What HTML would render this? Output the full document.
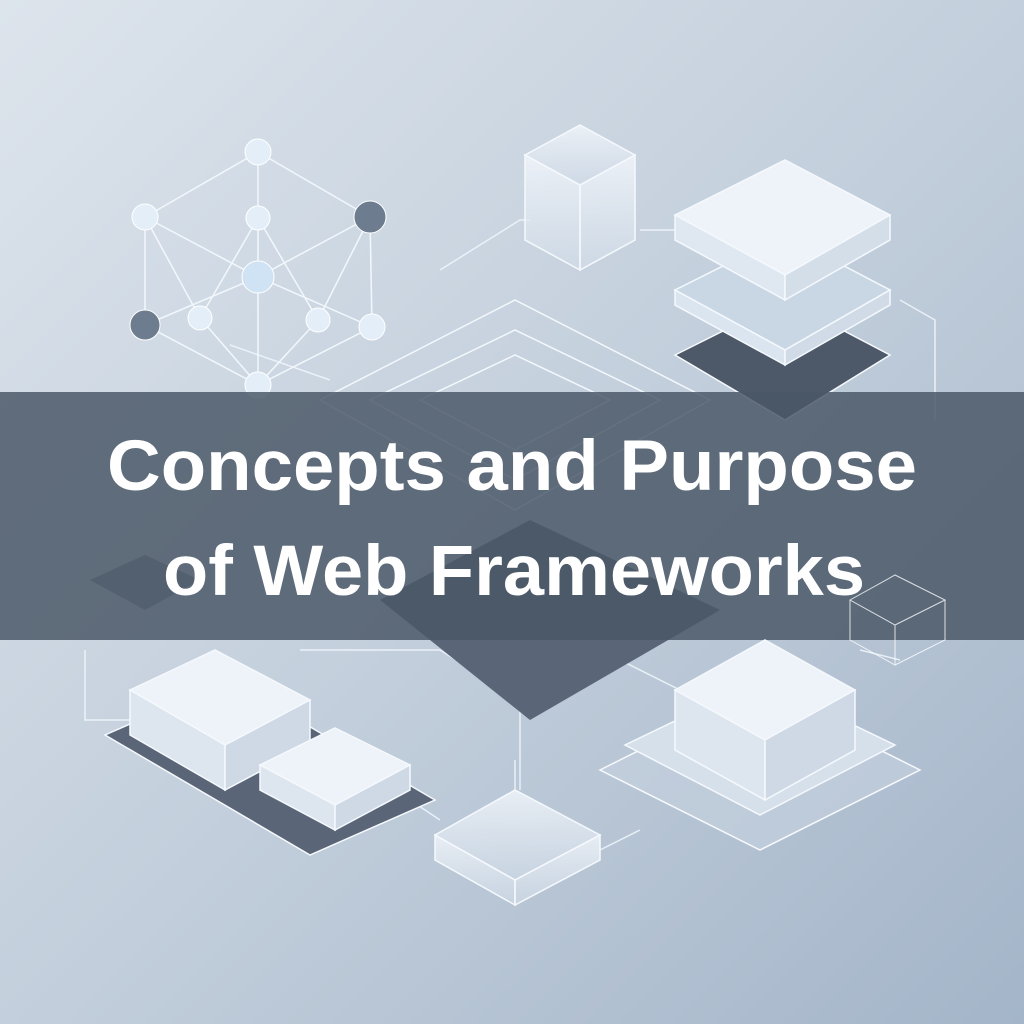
<!DOCTYPE html>
<html><head><meta charset="utf-8"><style>
html,body{margin:0;padding:0;width:1024px;height:1024px;overflow:hidden}
svg{display:block}
</style></head><body>
<svg width="1024" height="1024" viewBox="0 0 1024 1024" xmlns="http://www.w3.org/2000/svg">
<defs>
<linearGradient id="bg" x1="0" y1="0" x2="1" y2="1">
<stop offset="0" stop-color="#dde4ec"/><stop offset="0.5" stop-color="#c3cfdc"/><stop offset="1" stop-color="#a4b5c9"/>
</linearGradient>
<linearGradient id="glass" x1="0" y1="0" x2="0" y2="1">
<stop offset="0" stop-color="#f4f8fc" stop-opacity="0.8"/><stop offset="1" stop-color="#d3dde9" stop-opacity="0.6"/>
</linearGradient>
</defs>
<rect width="1024" height="1024" fill="url(#bg)"/>
<g fill="none" stroke="#eef4fb" stroke-width="1.5" opacity="0.9">
<path d="M85 650 V720 H130"/><path d="M300 650 L440 650 L520 700 V790"/><path d="M600 650 L700 700"/>
<path d="M440 270 L520 220 H530"/><path d="M640 230 L700 230"/><path d="M900 300 L935 320 V420"/>
<path d="M515 760 V790"/><path d="M410 800 L440 820"/><path d="M600 850 L640 830"/>
<path d="M230 345 L330 380"/><path d="M860 650 L900 660"/>
</g>
<g stroke="#f2f7fc" stroke-width="1.5" fill="none">
<path d="M258 152 L145 217 L145 325 L258 385 L372 327 L370 217 Z"/>
<path d="M258 152 V385 M145 217 L258 277 L370 217 M145 325 L258 277 L372 327 M200 318 L258 218 L318 320 M200 318 L258 385 L318 320 M145 217 L200 318 M370 217 L318 320"/>
</g>
<g fill="#e4eef8" stroke="#fff" stroke-width="1">
<circle cx="258" cy="152" r="13"/><circle cx="145" cy="217" r="13"/><circle cx="258" cy="218" r="12"/>
<circle cx="258" cy="277" r="16" fill="#cfe3f4"/><circle cx="200" cy="318" r="12"/><circle cx="318" cy="320" r="12"/>
<circle cx="372" cy="327" r="13"/><circle cx="258" cy="385" r="13"/>
<circle cx="370" cy="217" r="16" fill="#6d7c8e"/><circle cx="145" cy="325" r="15" fill="#6d7c8e"/>
</g>
<g stroke="#f5f9fd" stroke-width="1.5" fill="url(#glass)">
<polygon points="525,155 580,125 635,155 580,185"/><polygon points="525,155 580,185 580,270 525,240"/><polygon points="580,185 635,155 635,240 580,270"/>
</g>
<g stroke="#f5f9fd" stroke-width="1.5">
<polygon points="675,355 785,300 890,355 785,420" fill="#4d5868"/>
<polygon points="675,290 785,235 890,290 785,350 675,290" fill="#c9d6e4"/>
<polygon points="675,290 785,350 785,365 675,305" fill="#dbe5ef"/><polygon points="785,350 890,290 890,305 785,365" fill="#d0dbe7"/>
<polygon points="675,215 785,160 890,215 785,275" fill="#eef3f9"/>
<polygon points="675,215 785,275 785,300 675,240" fill="#dfe7f0"/><polygon points="785,275 890,215 890,240 785,300" fill="#d4dee9"/>
</g>
<g stroke="#f3f8fd" stroke-width="1.5" fill="none">
<polygon points="320,400 515,300 710,400 515,510"/><polygon points="370,400 515,330 660,400 515,480"/><polygon points="420,400 515,355 610,400 515,450"/>
</g>
<polygon points="380,600 530,520 720,610 530,720" fill="#5a6677"/>
<polygon points="90,580 145,555 200,580 145,610" fill="#7e8ea0"/>
<rect x="0" y="392" width="1024" height="248" fill="#4a5767" opacity="0.84"/>
<g font-family="Liberation Sans, sans-serif" font-weight="bold" fill="#fff" text-anchor="middle">
<text x="512" y="490" font-size="71" textLength="810" lengthAdjust="spacingAndGlyphs">Concepts and Purpose</text>
<text x="514" y="595" font-size="71" textLength="702" lengthAdjust="spacingAndGlyphs">of Web Frameworks</text>
</g>
<g stroke="#f5f9fd" stroke-width="1.5">
<polygon points="105,735 230,680 435,800 310,855" fill="#5a6677"/>
<polygon points="130,690 215,650 310,700 225,745" fill="#eef3f9"/>
<polygon points="130,690 225,745 225,790 130,735" fill="#dde6ef"/><polygon points="225,745 310,700 310,745 225,790" fill="#ced9e5"/>
<polygon points="260,765 335,728 410,765 335,805" fill="#eef3f9"/>
<polygon points="260,765 335,805 335,830 260,790" fill="#dde6ef"/><polygon points="335,805 410,765 410,790 335,830" fill="#ced9e5"/>
</g>
<g stroke="#f5f9fd" stroke-width="1.5" fill="url(#glass)">
<polygon points="435,835 515,790 600,835 515,880"/><polygon points="435,835 515,880 515,905 435,860"/><polygon points="515,880 600,835 600,860 515,905"/>
</g>
<g stroke="#f5f9fd" stroke-width="1.5">
<polygon points="600,770 760,690 920,770 760,850" fill="#c6d2df" fill-opacity="0.6"/>
<polygon points="625,745 760,680 895,745 760,815" fill="#d6e0eb"/>
<polygon points="675,690 765,640 855,690 765,740" fill="#eef3f9"/>
<polygon points="675,690 765,740 765,800 675,750" fill="#dde6ef"/><polygon points="765,740 855,690 855,750 765,800" fill="#ced9e5"/>
</g>
<g fill="none" stroke="#fff" stroke-width="1" opacity="0.8"><polygon points="850,600 895,575 945,600 895,625"/><path d="M850 600 V640 L895 665 V625 M945 600 V640 L895 665"/></g>
</svg>
</body></html>
